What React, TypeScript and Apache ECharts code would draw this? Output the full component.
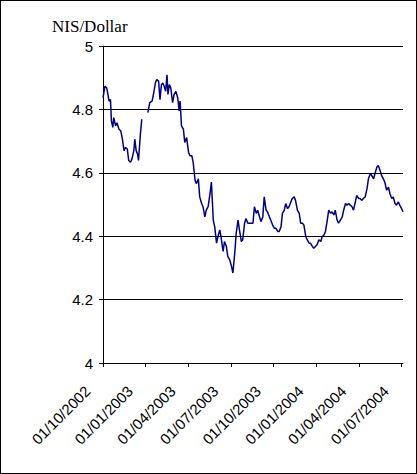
import React, { useEffect, useRef } from "react";
import * as echarts from "echarts";

const xLabels = ["01/10/2002","01/01/2003","01/04/2003","01/07/2003","01/10/2003","01/01/2004","01/04/2004","01/07/2004"];
const days = [0,4,8,13,16,18,21,23,27,30,34,38,41,45,48,52,55,59,62,66,68,71,74,76,80,83,90,96,100,105,108,112,115,119,122,125,128,131,134,137,139,142,145,149,152,156,160,163,165,168,172,175,179,183,186,190,193,197,200,204,207,211,214,218,221,225,229,232,236,239,243,246,250,253,257,260,264,267,271,275,278,282,285,289,292,296,299,303,306,310,313,317,321,324,328,331,335,338,342,345,349,352,356,359,363,367,370,374,377,381,384,388,391,395,398,402,405,409,412,416,420,423,427,430,434,437,441,444,448,451,455,458,462,466,469,473,476,480,483,487,490,494,497,501,504,508,512,515,519,522,526,529,533,536,540,543,547,550,554,557,561,565,568,572,575,579,582,586,589,593,596,600,603,607,611,614,618,621,625,628,632,635,639,642];
const rates: (number | null)[] = [4.836,4.873,4.868,4.826,4.831,4.764,4.743,4.774,4.748,4.758,4.738,4.732,4.711,4.670,4.680,4.675,4.639,4.633,4.644,4.670,4.706,4.670,4.659,4.639,4.722,4.769,null,4.790,4.821,4.826,4.847,4.883,4.894,4.889,4.831,4.878,4.883,4.873,4.857,4.909,4.847,4.878,4.868,4.821,4.847,4.857,4.836,4.795,4.826,4.748,4.738,4.696,4.711,4.665,4.654,4.654,4.633,4.576,4.566,4.581,4.524,4.503,4.493,4.461,4.482,4.493,4.534,4.571,4.451,4.430,4.378,4.399,4.420,4.394,4.352,4.383,4.368,4.336,4.326,4.305,4.284,4.347,4.409,4.451,4.420,4.383,4.389,4.441,4.456,4.441,4.441,4.441,4.441,4.493,4.472,4.482,4.461,4.446,4.461,4.524,4.482,4.477,4.461,4.451,4.435,4.425,4.425,4.415,4.415,4.430,4.472,4.482,4.503,4.487,4.493,4.508,4.519,4.524,4.513,4.482,4.472,4.441,4.441,4.435,4.399,4.389,4.378,4.378,4.368,4.362,4.368,4.373,4.389,4.383,4.399,4.404,4.415,4.451,4.482,4.472,4.477,4.467,4.482,4.451,4.441,4.451,4.461,4.482,4.503,4.498,4.503,4.498,4.493,4.482,4.508,4.529,4.519,4.519,4.513,4.519,4.524,4.550,4.581,4.597,4.592,4.581,4.597,4.618,4.623,4.607,4.592,4.581,4.571,4.545,4.555,4.534,4.519,4.524,4.503,4.498,4.508,4.498,4.487,4.477];

const QUARTER = 639 / 7;
const serif = "Times New Roman, Liberation Serif, DejaVu Serif, serif";
const sans = "Arial, Liberation Sans, sans-serif";

export default function App() {
  const ref = useRef<HTMLDivElement>(null);
  useEffect(() => {
    document.body.style.margin = "0";
    const chart = echarts.init(ref.current!, null, { renderer: "svg" });
    chart.setOption({
      animation: false,
      title: { text: "NIS/Dollar", left: 46, top: 12, textStyle: { fontFamily: serif, fontSize: 17, fontWeight: "normal", color: "#000" } },
      grid: { left: 102, right: 13, top: 45, bottom: 110 },
      xAxis: {
        type: "value", min: 0, max: 642, interval: QUARTER,
        splitLine: { show: false },
        axisLine: { lineStyle: { color: "#000" } },
        axisTick: { lineStyle: { color: "#000" }, length: 4 },
        axisLabel: {
          rotate: 45, color: "#000", fontFamily: sans, fontSize: 15, margin: 10,
          padding: [0, 22, 0, 0],
          formatter: (v: number) => xLabels[Math.round(v / QUARTER)] ?? "",
        },
      },
      yAxis: {
        type: "value", min: 4, max: 5, interval: 0.2,
        splitLine: { lineStyle: { color: "#000", width: 1 } },
        axisLine: { show: true, lineStyle: { color: "#000" } },
        axisTick: { show: true, lineStyle: { color: "#000" }, length: 4 },
        axisLabel: { color: "#000", fontFamily: sans, fontSize: 15, margin: 10, formatter: (v: number) => String(Math.round(v * 10) / 10) },
      },
      series: [{
        type: "line", showSymbol: false, connectNulls: false,
        data: days.map((d, i) => [d, rates[i]]),
        lineStyle: { color: "#000080", width: 1.5 },
      }],
    });
    return () => chart.dispose();
  }, []);
  return (
    <div style={{ width: 417, height: 474, boxSizing: "border-box", border: "1px solid #000", background: "#fff" }}>
      <div ref={ref} style={{ width: 415, height: 472 }} />
    </div>
  );
}
